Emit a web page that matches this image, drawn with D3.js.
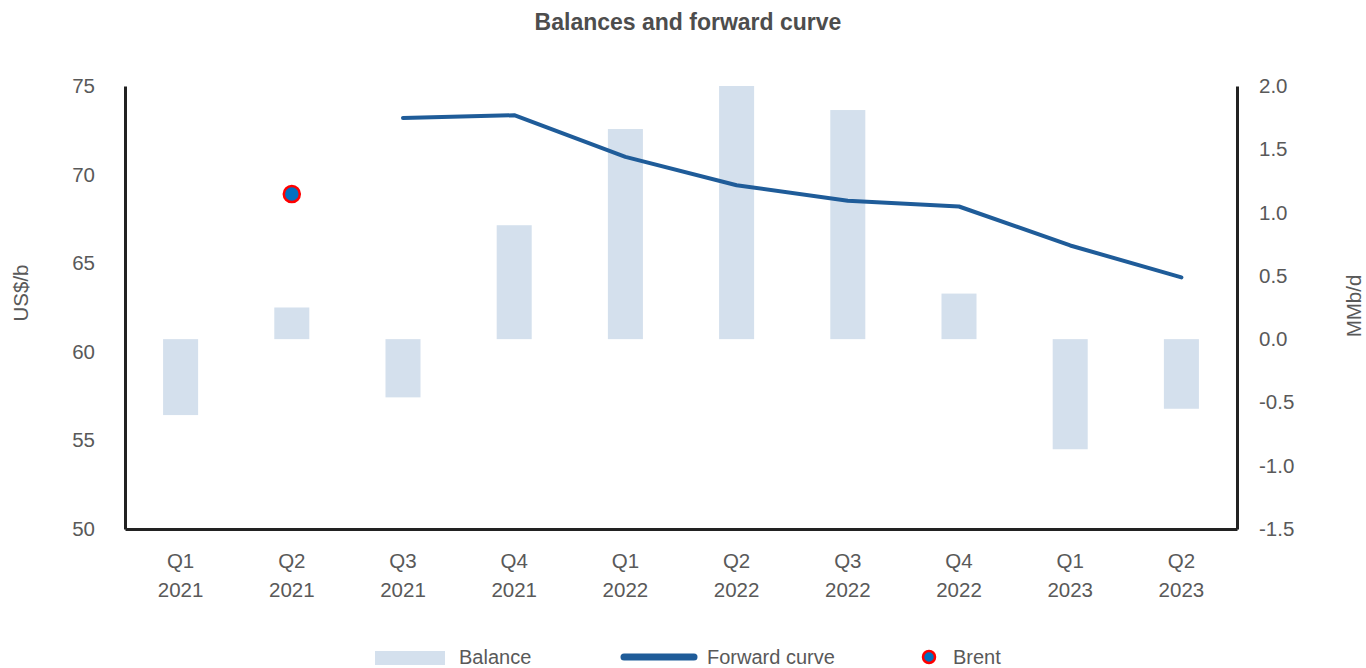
<!DOCTYPE html>
<html>
<head>
<meta charset="utf-8">
<script src="https://cdn.jsdelivr.net/npm/d3@7"></script>
<style>
  html, body { margin: 0; padding: 0; background: #fff; }
  svg { display: block; font-family: "Liberation Sans", Arial, Helvetica, sans-serif; }
</style>
</head>
<body>
<svg id="chart" width="1366" height="668"></svg>
<script>
// Quarter categories (two-line labels)
const quarters = ["Q1", "Q2", "Q3", "Q4", "Q1", "Q2", "Q3", "Q4", "Q1", "Q2"];
const years = ["2021", "2021", "2021", "2021", "2022", "2022", "2022", "2022", "2023", "2023"];

// Supply/demand balance, MMb/d (right axis)
const balance = [-0.6, 0.25, -0.46, 0.9, 1.66, 2.0, 1.81, 0.36, -0.87, -0.55];

// Forward curve, US$/b (left axis); null where no value
const forwardCurve = [null, null, 73.2, 73.35, 71.0, 69.4, 68.53, 68.2, 66.0, 64.2];

// Brent spot, US$/b
const brent = [null, 68.9, null, null, null, null, null, null, null, null];

// Axis ticks
const leftTicks = [50, 55, 60, 65, 70, 75];
const rightTicks = [-1.5, -1.0, -0.5, 0.0, 0.5, 1.0, 1.5, 2.0];

const keys = quarters.map((q, i) => q + " " + years[i]);

const svg = d3.select("#chart");
const margin = { left: 125, right: 1237, top: 86, bottom: 529 };
const fontSize = 20.5;
const textColor = "#595959";
const axisColor = "#222222";
const barColor = "#d4e0ed";
const lineColor = "#1f5c99";

const x = d3.scaleBand().domain(keys).range([margin.left, margin.right]).paddingInner(0.685).paddingOuter(0.3425);
const yL = d3.scaleLinear().domain([50, 75]).range([margin.bottom, margin.top]);
const yR = d3.scaleLinear().domain([-1.5, 2.0]).range([margin.bottom, margin.top]);

// Title
svg.append("text")
  .attr("x", 688).attr("y", 30)
  .attr("text-anchor", "middle")
  .attr("font-size", 23).attr("font-weight", "bold")
  .attr("fill", "#4d4d4d")
  .text("Balances and forward curve");

// Balance bars
svg.append("g").selectAll("rect")
  .data(balance)
  .join("rect")
  .attr("x", (d, i) => x(keys[i]))
  .attr("width", x.bandwidth())
  .attr("y", d => yR(Math.max(0, d)))
  .attr("height", d => Math.abs(yR(d) - yR(0)))
  .attr("fill", barColor);

// Forward curve
const line = d3.line()
  .defined(d => d != null)
  .x((d, i) => x(keys[i]) + x.bandwidth() / 2)
  .y(d => yL(d));

svg.append("path")
  .datum(forwardCurve)
  .attr("d", line)
  .attr("fill", "none")
  .attr("stroke", lineColor)
  .attr("stroke-width", 4)
  .attr("stroke-linecap", "round")
  .attr("stroke-linejoin", "round");

// Brent point
svg.append("g").selectAll("circle")
  .data(brent.map((v, i) => ({ v, k: keys[i] })).filter(d => d.v != null))
  .join("circle")
  .attr("cx", d => x(d.k) + x.bandwidth() / 2)
  .attr("cy", d => yL(d.v))
  .attr("r", 8)
  .attr("fill", "#0070c0")
  .attr("stroke", "#ff0000")
  .attr("stroke-width", 2.5);

// Axes
const hyphen = f => v => f(v).replace("\u2212", "-");
const leftAxis = d3.axisLeft(yL).tickValues(leftTicks).tickSize(0).tickPadding(30).tickFormat(d3.format("d"));
const gL = svg.append("g").attr("transform", `translate(${margin.left},0)`).call(leftAxis);

const rightAxis = d3.axisRight(yR).tickValues(rightTicks).tickSize(0).tickPadding(22).tickFormat(hyphen(d3.format(".1f")));
const gR = svg.append("g").attr("transform", `translate(${margin.right},0)`).call(rightAxis);

const bottomAxis = d3.axisBottom(x).tickSize(0).tickFormat(() => "");
const gB = svg.append("g").attr("transform", `translate(0,${margin.bottom})`).call(bottomAxis);

[gL, gR, gB].forEach(g => {
  g.select(".domain").attr("stroke", axisColor).attr("stroke-width", 3);
  g.selectAll("text").attr("font-size", fontSize).attr("fill", textColor)
    .attr("font-family", '"Liberation Sans", Arial, Helvetica, sans-serif');
});

// Two-line category labels
gB.selectAll(".tick").each(function (d) {
  const i = keys.indexOf(d);
  const t = d3.select(this).select("text").attr("y", 0).attr("dy", null);
  t.append("tspan").attr("x", 0).attr("y", 39).text(quarters[i]);
  t.append("tspan").attr("x", 0).attr("y", 68).text(years[i]);
});

// Axis titles
svg.append("text")
  .attr("transform", "translate(28,293) rotate(-90)")
  .attr("text-anchor", "middle")
  .attr("font-size", fontSize).attr("fill", textColor)
  .text("US$/b");

svg.append("text")
  .attr("transform", "translate(1361,306) rotate(-90)")
  .attr("text-anchor", "middle")
  .attr("font-size", fontSize).attr("fill", textColor)
  .text("MMb/d");

// Legend
const lg = svg.append("g").attr("font-size", 20).attr("fill", textColor);
lg.append("rect").attr("x", 375).attr("y", 651).attr("width", 70).attr("height", 14).attr("fill", barColor);
lg.append("text").attr("x", 459).attr("y", 664).text("Balance");
lg.append("line").attr("x1", 624).attr("x2", 694).attr("y1", 657).attr("y2", 657)
  .attr("stroke", lineColor).attr("stroke-width", 7).attr("stroke-linecap", "round");
lg.append("text").attr("x", 707).attr("y", 664).text("Forward curve");
lg.append("circle").attr("cx", 929).attr("cy", 657).attr("r", 6)
  .attr("fill", "#0070c0").attr("stroke", "#ff0000").attr("stroke-width", 2.5);
lg.append("text").attr("x", 953).attr("y", 664).text("Brent");
</script>
</body>
</html>
